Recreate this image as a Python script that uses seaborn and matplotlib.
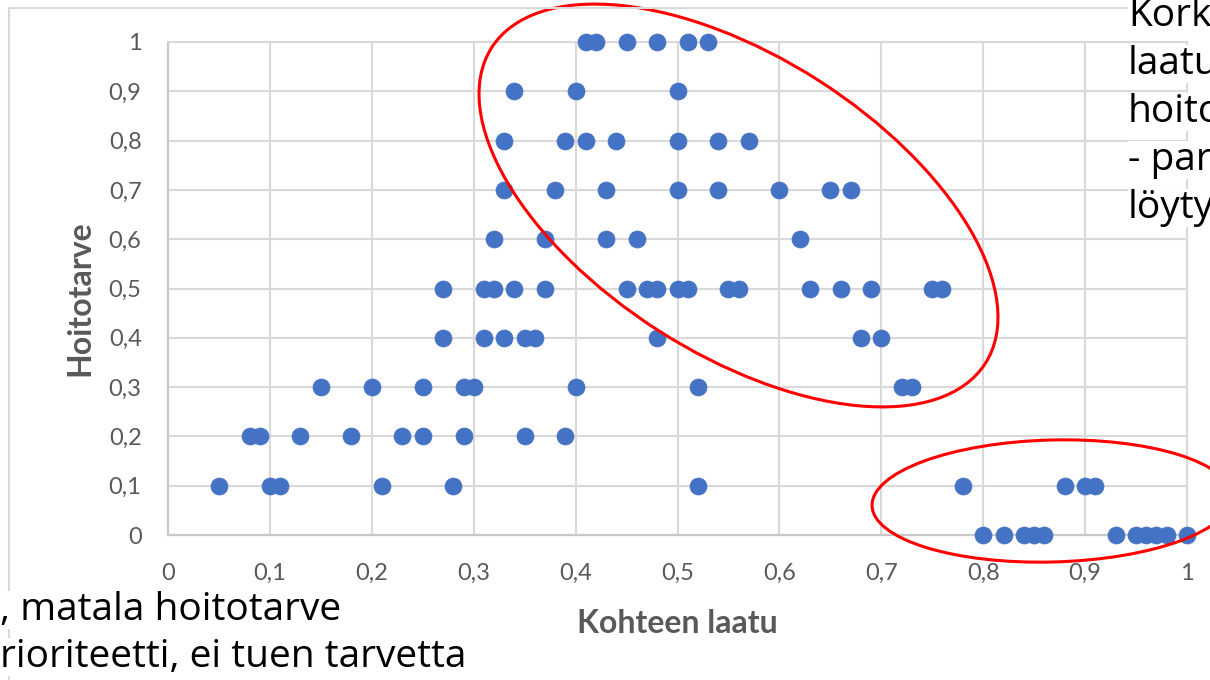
import matplotlib
matplotlib.use("Agg")
import matplotlib.pyplot as plt
from matplotlib.patches import Ellipse
from matplotlib.ticker import FuncFormatter
import seaborn as sns
import pandas as pd

# Kohteen laatu (x) for each Hoitotarve level (y)
hoito_levels = [1.0, 0.9, 0.8, 0.7, 0.6, 0.5, 0.4, 0.3, 0.2, 0.1, 0.0]
laatu_10 = [0.41, 0.42, 0.45, 0.48, 0.51, 0.53]
laatu_09 = [0.34, 0.40, 0.50]
laatu_08 = [0.33, 0.39, 0.41, 0.44, 0.50, 0.54, 0.57]
laatu_07 = [0.33, 0.38, 0.43, 0.50, 0.54, 0.60, 0.65, 0.67]
laatu_06 = [0.32, 0.37, 0.43, 0.46, 0.62]
laatu_05 = [0.27, 0.31, 0.32, 0.34, 0.37, 0.45, 0.47, 0.48, 0.50, 0.51,
            0.55, 0.56, 0.63, 0.66, 0.69, 0.75, 0.76]
laatu_04 = [0.27, 0.31, 0.33, 0.35, 0.36, 0.48, 0.68, 0.70]
laatu_03 = [0.15, 0.20, 0.25, 0.29, 0.30, 0.40, 0.52, 0.72, 0.73]
laatu_02 = [0.08, 0.09, 0.13, 0.18, 0.23, 0.25, 0.29, 0.35, 0.39]
laatu_01 = [0.05, 0.10, 0.11, 0.21, 0.28, 0.52, 0.78, 0.88, 0.90, 0.91]
laatu_00 = [0.80, 0.82, 0.84, 0.85, 0.86, 0.93, 0.95, 0.96, 0.97, 0.98, 1.00]
rows = [laatu_10, laatu_09, laatu_08, laatu_07, laatu_06, laatu_05,
        laatu_04, laatu_03, laatu_02, laatu_01, laatu_00]

ticks = [0, 0.1, 0.2, 0.3, 0.4, 0.5, 0.6, 0.7, 0.8, 0.9, 1.0]

# slide text boxes, cut by the edge of the screenshot
top_right_lines = ["Kork", "laatu", "hoito", "- par", "löyty"]
bottom_left_lines = [", matala hoitotarve", "rioriteetti, ei tuen tarvetta"]

df = pd.DataFrame({
    "Kohteen laatu": [x for xs in rows for x in xs],
    "Hoitotarve": [lvl for lvl, xs in zip(hoito_levels, rows) for _ in xs],
})

sns.set_style("white")
plt.rcParams["font.family"] = ["Lato", "DejaVu Sans"]

fig = plt.figure(figsize=(12.1, 6.8), dpi=100)
ax = fig.add_axes([168 / 1210, 1 - 535 / 680, 1019 / 1210, 493 / 680])

grid_c = "#D9D9D9"
text_c = "#595959"
blue = "#4472C4"

sns.scatterplot(data=df, x="Kohteen laatu", y="Hoitotarve", ax=ax,
                color=blue, s=150, edgecolor=blue, linewidth=0.5,
                clip_on=False, zorder=3)

ax.set_xlim(0, 1)
ax.set_ylim(0, 1)
ax.set_xticks(ticks)
ax.set_yticks(ticks)
fmt = FuncFormatter(lambda v, p: ("%g" % round(v, 1)).replace(".", ","))
ax.xaxis.set_major_formatter(fmt)
ax.yaxis.set_major_formatter(fmt)
ax.grid(True, color=grid_c, linewidth=1.5)
ax.set_axisbelow(True)
for side in ["top", "right"]:
    ax.spines[side].set_color(grid_c)
    ax.spines[side].set_linewidth(1.5)
for side in ["left", "bottom"]:
    ax.spines[side].set_color("#C9C9C9")
    ax.spines[side].set_linewidth(1.6)
ax.tick_params(axis="x", length=0, pad=20, labelsize=17, labelcolor=text_c)
ax.tick_params(axis="y", length=0, pad=19, labelsize=17, labelcolor=text_c)

ax.set_xlabel("Kohteen laatu", fontsize=23, fontweight="bold", color=text_c)
ax.set_ylabel("Hoitotarve", fontsize=23, fontweight="bold", color=text_c)
ax.xaxis.set_label_coords(0.5, -0.150)
ax.yaxis.set_label_coords(-0.072, 0.48)

# overlay in pixel coordinates for chart frame, ellipses and slide text
ov = fig.add_axes([0, 0, 1, 1], zorder=5)
ov.set_xlim(0, 1210)
ov.set_ylim(0, 680)
ov.axis("off")
ov.plot([9, 1210], [672, 672], color=grid_c, lw=1.5)
ov.plot([9, 9], [672, 0], color=grid_c, lw=1.5)

ov.add_patch(Ellipse((738.5, 474.5), 586, 297, angle=-32.6,
                     fill=False, edgecolor="#FF0000", lw=2.2))
ov.add_patch(Ellipse((1052, 179), 360, 122, angle=1.5,
                     fill=False, edgecolor="#FF0000", lw=2.2))

slide_font = ["Open Sans", "DejaVu Sans"]
for i, line in enumerate(top_right_lines):
    ov.text(1128, 664 - i * 48, line, fontsize=28, family=slide_font,
            ha="left", va="center", color="black",
            bbox=dict(facecolor="white", edgecolor="none", pad=0))
for i, line in enumerate(bottom_left_lines):
    ov.text(0, 70 - i * 47, line, fontsize=28, family=slide_font,
            ha="left", va="center", color="black",
            bbox=dict(facecolor="white", edgecolor="none", pad=0))

fig.savefig("out.png", dpi=100)
